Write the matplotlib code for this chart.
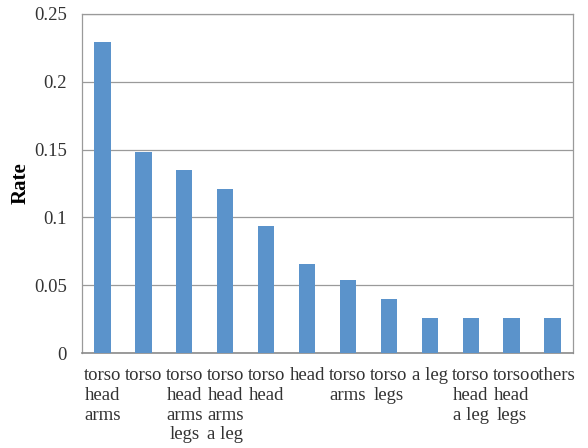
import matplotlib.pyplot as plt
import numpy as np

# data
categories = ["torso\nhead\narms", "torso", "torso\nhead\narms\nlegs", "torso\nhead\narms\na leg",
              "torso\nhead", "head", "torso\narms", "torso\nlegs", "a leg",
              "torso\nhead\na leg", "torso\nhead\nlegs", "others"]
rates = [0.229, 0.148, 0.135, 0.121, 0.094, 0.066, 0.054, 0.040, 0.026, 0.026, 0.026, 0.026]
yticks = [0, 0.05, 0.1, 0.15, 0.2, 0.25]
ytick_labels = ["0", "0.05", "0.1", "0.15", "0.2", "0.25"]

plt.rcParams["font.family"] = ["Liberation Serif", "DejaVu Serif"]

fig = plt.figure(figsize=(5.88, 4.48), dpi=100)
ax = fig.add_axes([82 / 588, 1 - 353 / 448, 491 / 588, 339 / 448])

x = np.arange(len(categories))
ax.bar(x, rates, width=0.4, color="#5B93CB", zorder=3)

ax.set_xlim(-0.5, len(categories) - 0.5)
ax.set_ylim(0, 0.25)
ax.set_yticks(yticks)
ax.set_yticklabels(ytick_labels, fontsize=13.5, color="#333333")
ax.set_xticks(x)
ax.set_xticklabels(categories, fontsize=13.5, color="#333333", va="top",
                   linespacing=1.22)
ax.tick_params(axis="both", length=0)
ax.tick_params(axis="y", pad=11)
ax.tick_params(axis="x", pad=10)

ax.yaxis.grid(True, color="#9a9a9a", linewidth=0.9, zorder=0)
for s in ["top", "right", "left"]:
    ax.spines[s].set_color("#9a9a9a")
    ax.spines[s].set_linewidth(0.9)
ax.spines["bottom"].set_color("#8a8a8a")
ax.spines["bottom"].set_linewidth(1.2)

ax.set_ylabel("Rate", fontsize=15, fontweight="bold", labelpad=2)

plt.savefig("out.png", dpi=100)
